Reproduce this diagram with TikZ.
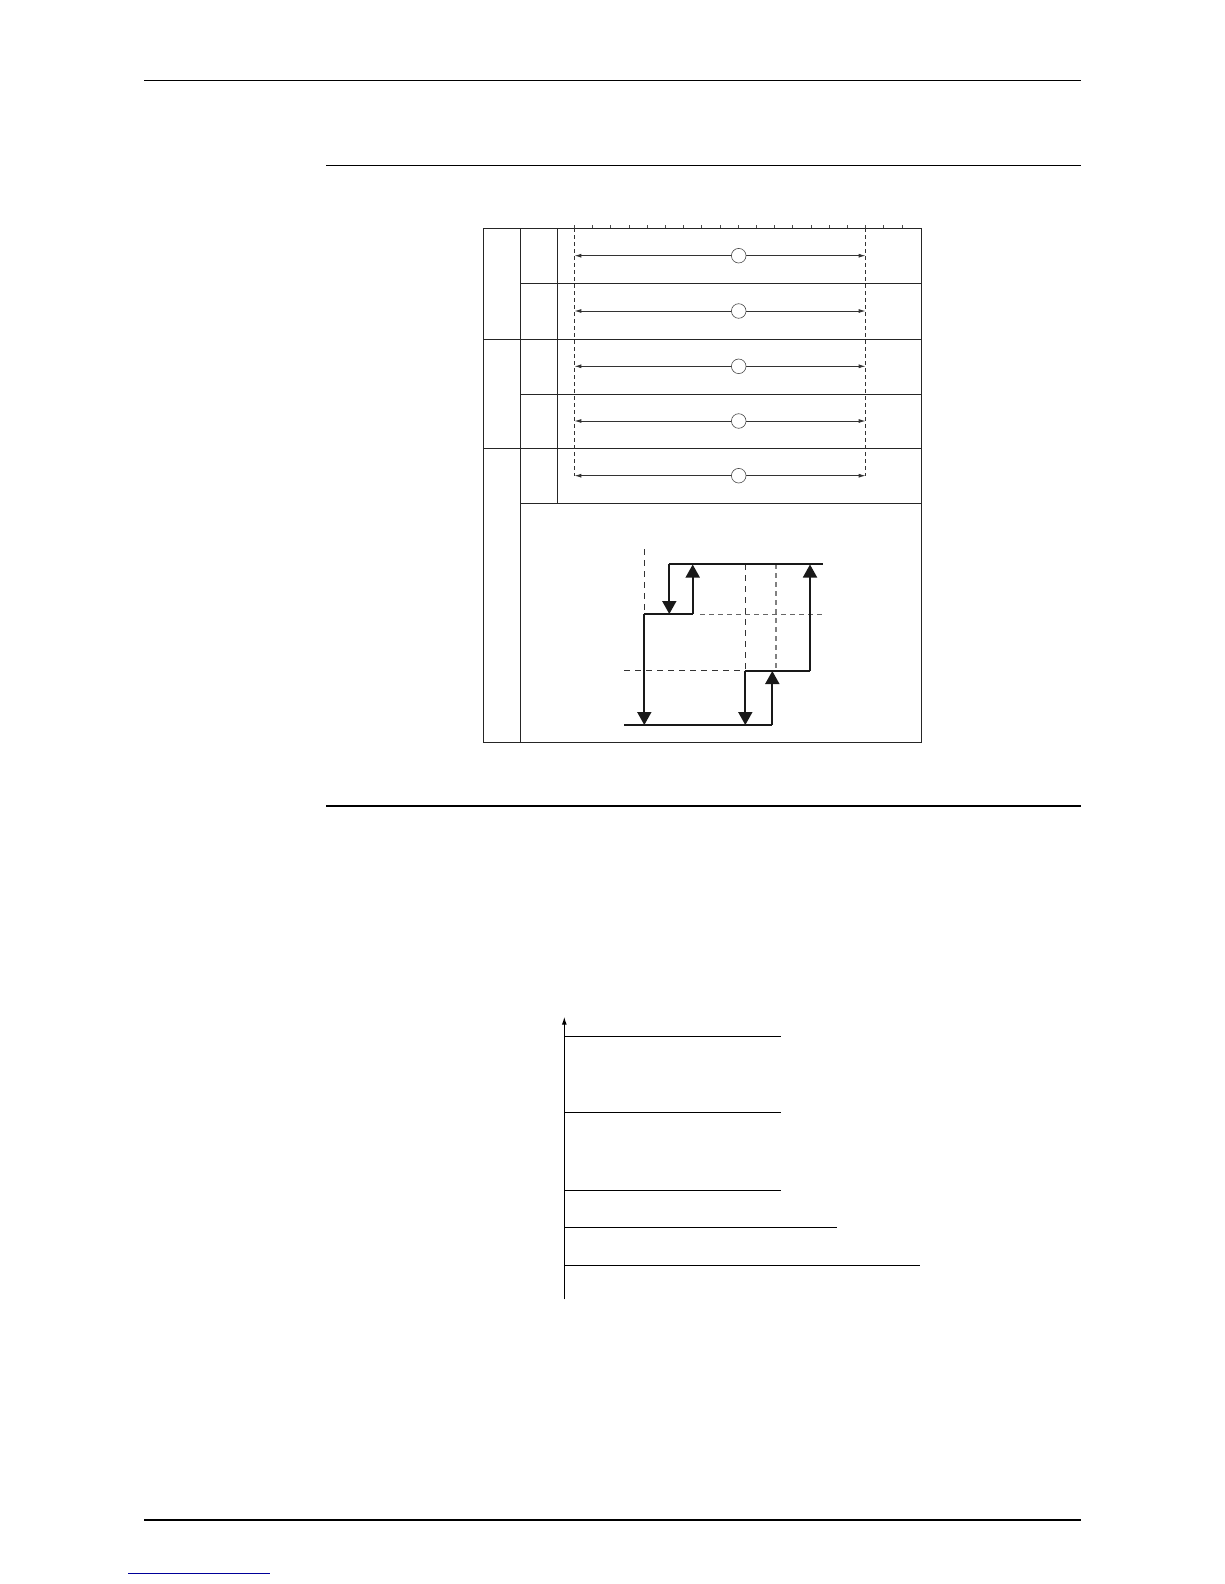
\documentclass[tikz,border=0pt]{standalone}
\usetikzlibrary{arrows.meta}
\begin{document}
\begin{tikzpicture}[x=1pt,y=-1pt,
  rule/.style={line width=1.3pt,black},
  grid/.style={line width=0.9pt,black!85},
  guide/.style={line width=0.7pt,black!80,dash pattern=on 4pt off 3pt},
  span/.style={line width=1pt,black!80,{Latex[length=7pt,width=4pt]}-{Latex[length=7pt,width=4pt]}},
  mark circle/.style={circle,draw=black!70,fill=white,line width=0.6pt,minimum size=14.6pt,inner sep=0pt},
  stepline/.style={line width=1.8pt,black!90},
  steparrow/.style={stepline,-{Triangle[length=13pt,width=14pt]}},
  level/.style={line width=0.8pt,black!80,dash pattern=on 6pt off 5pt},
  dotlevel/.style={line width=0.8pt,black!60,dash pattern=on 5pt off 4pt},
  curve/.style={line width=1.2pt,black}
]
\useasboundingbox (0,0) rectangle (1224,1584);
\fill[white] (0,0) rectangle (1224,1584);

% page rules
\coordinate (r1a) at (144,80.8);  \coordinate (r1b) at (1081,80.8);
\coordinate (r2a) at (326,165.6); \coordinate (r2b) at (1081,165.6);
\coordinate (r3a) at (326,806);   \coordinate (r3b) at (1081,806);
\coordinate (r4a) at (144,1520);  \coordinate (r4b) at (1081,1520);
\draw[rule] (r1a) -- (r1b);
\draw[rule] (r2a) -- (r2b);
\draw[rule] (r3a) -- (r3b);
\draw[rule] (r4a) -- (r4b);
\coordinate (lka) at (128,1573.6); \coordinate (lkb) at (270,1573.6);
\draw[line width=1.2pt,blue!60!black] (lka) -- (lkb);

% table frame
\coordinate (tl) at (483.5,228.3);
\coordinate (br) at (921.5,742);
\draw[grid] (tl) rectangle (br);
\draw[grid] (520.5,228.3) -- (520.5,742);
\draw[grid] (557.5,228.3) -- (557.5,503);
\draw[grid] (520.5,283.3) -- (921.5,283.3);
\draw[grid] (483.5,339) -- (921.5,339);
\draw[grid] (520.5,394) -- (921.5,394);
\draw[grid] (483.5,448.7) -- (921.5,448.7);
\draw[grid] (520.5,503) -- (921.5,503);

% scale ticks
\foreach \i in {0,...,18}{
  \draw[line width=0.6pt,black!70] (574.3+\i*18.2,228.3) -- (574.3+\i*18.2,225);
}

% dashed guides
\coordinate (dlt) at (574.3,228.3); \coordinate (dlb) at (574.3,475.7);
\coordinate (drt) at (865.7,228.3); \coordinate (drb) at (865.7,475.7);
\draw[guide] (dlt) -- (dlb);
\draw[guide] (drt) -- (drb);

% spans with circles
\foreach \y [count=\k] in {255.7,311,366.3,421,475.7}{
  \coordinate (sa\k) at (574.3,\y);
  \coordinate (sb\k) at (865.7,\y);
  \draw[span] (sa\k) -- (sb\k);
  \node[mark circle] (c\k) at (738.7,\y) {};
}

% step (hysteresis) diagram
\coordinate (vdt) at (644.3,549.3);
\coordinate (vdb) at (644.3,614);
\draw[level] (vdt) -- (vdb);
\coordinate (hda) at (624,670.7);
\coordinate (hdb) at (745.3,670.7);
\draw[level] (hda) -- (hdb);
\coordinate (hpa) at (700,614);
\coordinate (hpb) at (823.3,614);
\draw[dotlevel] (hpa) -- (hpb);
\coordinate (va1) at (745.3,564); \coordinate (vb1) at (745.3,670.7);
\coordinate (va2) at (776,564);   \coordinate (vb2) at (776,670.7);
\draw[level] (va1) -- (vb1);
\draw[dotlevel,black!50,line width=1.1pt] (va2) -- (vb2);

\coordinate (tA) at (669.3,564);
\coordinate (tB) at (823.3,564);
\draw[stepline] (tA) -- (tB);
\draw[steparrow] (tA) -- (669.3,614);
\coordinate (sA) at (644.3,614);
\coordinate (sB) at (692.7,614);
\draw[stepline] (sA) -- (sB);
\draw[steparrow] (sB) -- (692.7,564.5);
\draw[steparrow] (sA) -- (644.3,725);
\coordinate (bA) at (624,725);
\coordinate (bB) at (772.3,725);
\draw[stepline] (bA) -- (bB);
\draw[steparrow] (bB) -- (772.3,671);
\coordinate (mA) at (745.3,670.7);
\coordinate (mB) at (810,670.7);
\draw[stepline] (mA) -- (mB);
\draw[steparrow] (mA) -- (745.3,725);
\draw[steparrow] (mB) -- (810,564.5);

% level graph
\coordinate (ax0) at (564.3,1299.3);
\coordinate (ax1) at (564.3,1016.7);
\draw[curve,-{Latex[length=8pt,width=5pt]}] (ax0) -- (ax1);
\coordinate (l1) at (780.7,1036.3);
\coordinate (l2) at (780.7,1112.3);
\coordinate (l3) at (780.7,1190.3);
\coordinate (l4) at (836.7,1227.3);
\coordinate (l5) at (920,1265.3);
\draw[curve] (564.3,1036.3) -- (l1);
\draw[curve] (564.3,1112.3) -- (l2);
\draw[curve] (564.3,1190.3) -- (l3);
\draw[curve] (564.3,1227.3) -- (l4);
\draw[curve] (564.3,1265.3) -- (l5);
\end{tikzpicture}
\end{document}
